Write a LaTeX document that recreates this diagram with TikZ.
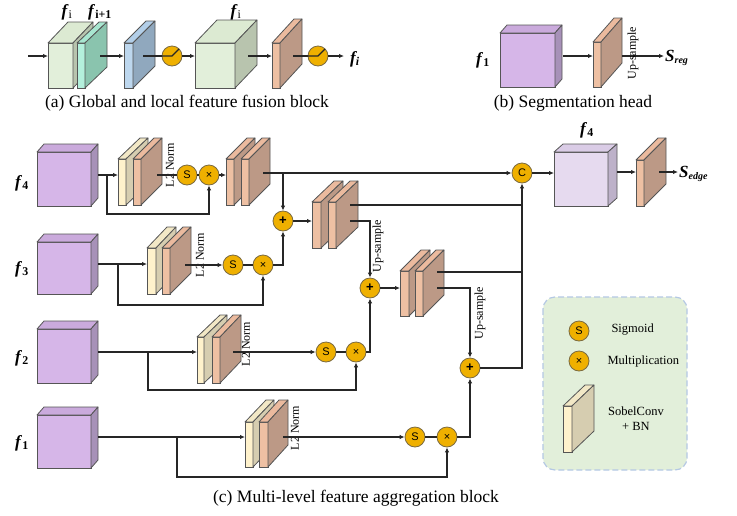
\documentclass[tikz,border=0pt]{standalone}
\usepackage{fontspec}
\setmainfont{Liberation Serif}
\newfontfamily\opfont{Liberation Sans}
\usetikzlibrary{arrows.meta,calc}

% block colours: F = front, T = top, S = side
\definecolor{purF}{HTML}{D6B6E8}\definecolor{purT}{HTML}{CAAADC}\definecolor{purS}{HTML}{A791B8}
\definecolor{lpuF}{HTML}{E6DAEF}\definecolor{lpuT}{HTML}{DACCE6}\definecolor{lpuS}{HTML}{BDB1C9}
\definecolor{yelF}{HTML}{FFF2CC}\definecolor{yelT}{HTML}{F2E8C6}\definecolor{yelS}{HTML}{D6CDB0}
\definecolor{orgF}{HTML}{EEC0A3}\definecolor{orgT}{HTML}{EBBA9E}\definecolor{orgS}{HTML}{BC9986}
\definecolor{grnF}{HTML}{E2EFDA}\definecolor{grnT}{HTML}{DCEAD2}\definecolor{grnS}{HTML}{B8C4AE}
\definecolor{teaF}{HTML}{B4F0DC}\definecolor{teaT}{HTML}{A8E6D0}\definecolor{teaS}{HTML}{8AC4AE}
\definecolor{bluF}{HTML}{BDD7EE}\definecolor{bluT}{HTML}{B2CEE8}\definecolor{bluS}{HTML}{90A8BE}
\definecolor{opFill}{HTML}{EFB000}
\definecolor{opEdge}{HTML}{7A6A40}
\definecolor{faceEdge}{HTML}{555555}
\definecolor{legFill}{HTML}{E2EFDA}
\definecolor{legEdge}{HTML}{B4C8E4}

\tikzset{
  face/.style={draw=faceEdge, line width=0.8pt, inner sep=0pt, outer sep=0pt},
  edge/.style={draw=faceEdge, line width=0.8pt, line join=round},
  ln/.style={draw=black!85, line width=1.1pt},
  arr/.style={ln, -{Latex[length=5pt,width=4.5pt]}},
  opc/.style={circle, draw=opEdge, line width=0.8pt, fill=opFill, minimum size=20pt,
              inner sep=0pt, font=\opfont\fontsize{11}{11}\selectfont},
  captext/.style={font=\fontsize{17.5}{18}\selectfont},
  flab/.style={font=\fontsize{17}{17}\selectfont},
  small/.style={font=\fontsize{12}{12}\selectfont},
  leg/.style={font=\fontsize{12.5}{15}\selectfont, align=center},
}

% cuboid: name, left, top, right, bottom, depth x, depth y, colour prefix
\newcommand\blockbox[8]{%
  \node[face, fill=#8F, minimum width={(#4-#2)*1pt}, minimum height={(#5-#3)*1pt},
        anchor=north west] (#1) at (#2,#3) {};
  \draw[edge, fill=#8T] (#1.north west) -- ++(#6,-#7) -- ++({#4-#2},0) -- (#1.north east) -- cycle;
  \draw[edge, fill=#8S] (#1.north east) -- ++(#6,-#7) -- ++(0,{#5-#3}) -- (#1.south east) -- cycle;
}
\newcommand\fsub[1]{\textbf{\textit{f}}\textsubscript{\textbf{#1}}}

\begin{document}
\begin{tikzpicture}[x=1pt, y=-1pt]
\useasboundingbox (0,0) rectangle (737,515);

%% (a) global and local feature fusion block
\blockbox{afi}{48}{43}{73}{88}{20}{21}{grn}
\blockbox{afn}{77}{43}{85}{88}{22}{21}{tea}
\blockbox{abl}{124}{43}{133}{88}{22}{22}{blu}
\blockbox{abig}{195}{43}{235}{88}{22}{23}{grn}
\blockbox{aor}{272}{43}{280}{88}{22}{24}{org}
\node[flab] (lfi) at (67,12) {\textbf{\textit{f}}\textsubscript{i}};
\node[flab] (lfn) at (100,12) {\textbf{\textit{f}}\textsubscript{\textbf{i+1}}};
\node[flab] (lfb) at (236,12) {\textbf{\textit{f}}\textsubscript{i}};
\node[flab, anchor=west, inner sep=1pt] (aoutl) at (349,59) {\textbf{\textit{f\textsubscript{i}}}};
\node[opc] (r1) at (172,56) {};
\node[opc] (r2) at (318,56) {};
\coordinate (ain) at (28,56);
\coordinate (ao1) at (100,56);
\coordinate (ao2) at (143,56);
\coordinate (ao3) at (248,56);
\coordinate (ao4) at (293,56);
\coordinate (aend) at (344,56);
\draw[arr] (ain) -- (ain -| afi.west);
\draw[arr] (ao1) -- (ao1 -| abl.west);
\draw[ln] (ao2) -- (r1.west);
\draw[ln] (r1.west) -- (r1.center) -- ++(7,-7);
\draw[arr] (r1.east) -- (r1.east -| abig.west);
\draw[arr] (ao3) -- (ao3 -| aor.west);
\draw[ln] (ao4) -- (r2.west);
\draw[ln] (r2.west) -- (r2.center) -- ++(7,-7);
\draw[arr] (r2.east) -- (aend);
\node[captext] (capa) at (187,103) {(a) Global and local feature fusion block};

%% (b) segmentation head
\blockbox{bcu}{500}{33}{555}{87}{7}{8}{pur}
\blockbox{bpl}{593}{42}{601}{87}{21}{24}{org}
\node[flab] (bf1) at (483,60) {\fsub{1}};
\node[flab, anchor=west, inner sep=1pt] (sreg) at (664,58) {\textbf{\textit{S\textsubscript{\fontsize{10}{10}\selectfont reg}}}};
\coordinate (bo0) at (563,56);
\coordinate (bo1) at (622,56);
\draw[arr] (bo0) -- (bo0 -| bpl.west);
\draw[arr] (bo1) -- (bo1 -| sreg.west);
\node[small, rotate=90] (bup) at (633,53) {Up-sample};
\node[captext] (capb) at (573,103) {(b) Segmentation head};

%% (c) multi-level feature aggregation block
% input features
\blockbox{c4}{37}{152}{91}{206}{7}{8}{pur}
\blockbox{c3}{37}{242}{91}{294}{7}{8}{pur}
\blockbox{c2}{37}{329}{91}{383}{7}{8}{pur}
\blockbox{c1}{37}{415}{91}{468}{7}{8}{pur}
\node[flab] (lf4) at (22,183) {\fsub{4}};
\node[flab] (lf3) at (22,269) {\fsub{3}};
\node[flab] (lf2) at (22,358) {\fsub{2}};
\node[flab] (lf1) at (22,443) {\fsub{1}};

% SobelConv + BN and conv plates
\blockbox{y4}{118}{159}{126}{205}{22}{21}{yel}
\blockbox{o4}{133}{159}{141}{205}{21}{21}{org}
\blockbox{y3}{147}{248}{156}{294}{20}{21}{yel}
\blockbox{o3}{162}{248}{170}{294}{21}{21}{org}
\blockbox{y2}{197}{337}{204}{383}{23}{22}{yel}
\blockbox{o2}{212}{337}{220}{383}{21}{22}{org}
\blockbox{y1}{245}{422}{253}{467}{21}{22}{yel}
\blockbox{o1}{259}{422}{268}{467}{20}{22}{org}
\blockbox{q4a}{226}{159}{234}{205}{21}{21}{org}
\blockbox{q4b}{241}{159}{249}{205}{21}{21}{org}
\blockbox{m1a}{312}{202}{321}{248}{22}{21}{org}
\blockbox{m1b}{328}{202}{336}{248}{22}{21}{org}
\blockbox{m2a}{400}{271}{409}{316}{21}{21}{org}
\blockbox{m2b}{415}{271}{423}{316}{21}{21}{org}
\blockbox{big}{554}{152}{608}{206}{9}{8}{lpu}
\blockbox{ep}{636}{160}{644}{206}{22}{22}{org}
\node[flab] (lbig) at (587,130) {\fsub{4}};
\node[flab, anchor=west, inner sep=1pt] (sedge) at (678,174) {\textbf{\textit{S\textsubscript{\fontsize{10}{10}\selectfont edge}}}};

% L2 Norm and up-sample labels
\node[small, rotate=90] (n4) at (170,165) {L2 Norm};
\node[small, rotate=90] (n3) at (200,255) {L2 Norm};
\node[small, rotate=90] (n2) at (246,344) {L2 Norm};
\node[small, rotate=90] (n1) at (295,428) {L2 Norm};
\node[small, rotate=90] (u1) at (378,246) {Up-sample};
\node[small, rotate=90] (u2) at (480,313) {Up-sample};

% operator nodes
\node[opc] (s4) at (187,175) {S};
\node[opc] (x4) at (209,175) {×};
\node[opc] (s3) at (233,265) {S};
\node[opc] (x3) at (263,265) {×};
\node[opc] (s2) at (326,352) {S};
\node[opc] (x2) at (356,352) {×};
\node[opc] (s1) at (415,437) {S};
\node[opc] (x1) at (447,437) {×};
\node[opc, font=\opfont\bfseries\fontsize{13}{13}\selectfont] (p1) at (283,221) {+};
\node[opc, font=\opfont\bfseries\fontsize{13}{13}\selectfont] (p2) at (370,288) {+};
\node[opc, font=\opfont\bfseries\fontsize{13}{13}\selectfont] (p3) at (470,368) {+};
\node[opc] (cc) at (522,173) {C};

% connection points
\coordinate (c4o) at (98,175);  \coordinate (b4) at (107,175);
\coordinate (c3o) at (98,264);  \coordinate (b3) at (118,264);
\coordinate (c2o) at (98,352);  \coordinate (b2) at (148,352);
\coordinate (c1o) at (98,437);  \coordinate (b1) at (177,437);
\coordinate (o4o) at (157,175);
\coordinate (o3o) at (185,265);
\coordinate (o2o) at (233,352);
\coordinate (o1o) at (283,437);
\coordinate (q4o) at (263,173); \coordinate (q4t) at (283,173);
\coordinate (m1o1) at (350,205);
\coordinate (m1o2) at (350,221);
\coordinate (m2o1) at (437,272);
\coordinate (m2o2) at (437,288);
\coordinate (bigo) at (617,172);
\coordinate (epo) at (659,172);

% level 4
\draw[arr] (c4o) -- (c4o -| y4.west);
\draw[arr] (b4) -- (b4 |- 0,214) -| (x4.south);
\draw[ln] (o4o) -- (s4.west);
\draw[ln] (s4.east) -- (x4.west);
\draw[arr] (x4.east) -- (x4.east -| q4a.west);
\draw[arr] (q4o) -- (cc.west);
\draw[arr] (q4t) -- (p1.north);
% level 3
\draw[arr] (c3o) -- (c3o -| y3.west);
\draw[arr] (b3) -- (b3 |- 0,305) -| (x3.south);
\draw[arr] (o3o) -- (s3.west);
\draw[ln] (s3.east) -- (x3.west);
\draw[arr] (x3.east) -| (p1.south);
\draw[arr] (p1.east) -- (p1.east -| m1a.west);
\draw[ln] (m1o1) -- (m1o1 -| cc.south);
\draw[arr] (m1o2) -| (p2.north);
% level 2
\draw[arr] (c2o) -- (c2o -| y2.west);
\draw[arr] (b2) -- (b2 |- 0,390) -| (x2.south);
\draw[arr] (o2o) -- (s2.west);
\draw[ln] (s2.east) -- (x2.west);
\draw[arr] (x2.east) -| (p2.south);
\draw[arr] (p2.east) -- (p2.east -| m2a.west);
\draw[ln] (m2o1) -- (m2o1 -| cc.south);
\draw[arr] (m2o2) -| (p3.north);
% level 1
\draw[arr] (c1o) -- (c1o -| y1.west);
\draw[arr] (b1) -- (b1 |- 0,477) -| (x1.south);
\draw[arr] (o1o) -- (s1.west);
\draw[ln] (s1.east) -- (x1.west);
\draw[arr] (x1.east) -| (p3.south);
\draw[arr] (p3.east) -| (cc.south);
% output
\draw[arr] (cc.east) -- (cc.east -| big.west);
\draw[arr] (bigo) -- (bigo -| ep.west);
\draw[arr] (epo) -- (epo -| sedge.west);

\node[captext] (capc) at (356,498) {(c) Multi-level feature aggregation block};

%% legend
\draw[draw=legEdge, fill=legFill, line width=1.2pt, dash pattern=on 6pt off 3pt,
      rounded corners=12pt] (543,297) rectangle (687,470);
\node[opc] (ls) at (579,331) {S};
\node[opc] (lx) at (579,361) {×};
\blockbox{lp}{563}{406}{572}{452}{22}{21}{yel}
\node[leg, anchor=west] (lts) at (608,330) {Sigmoid};
\node[leg, anchor=west] (ltx) at (604,361) {Multiplication};
\node[leg] (ltp) at (636,419) {SobelConv\\+ BN};
\end{tikzpicture}
\end{document}
